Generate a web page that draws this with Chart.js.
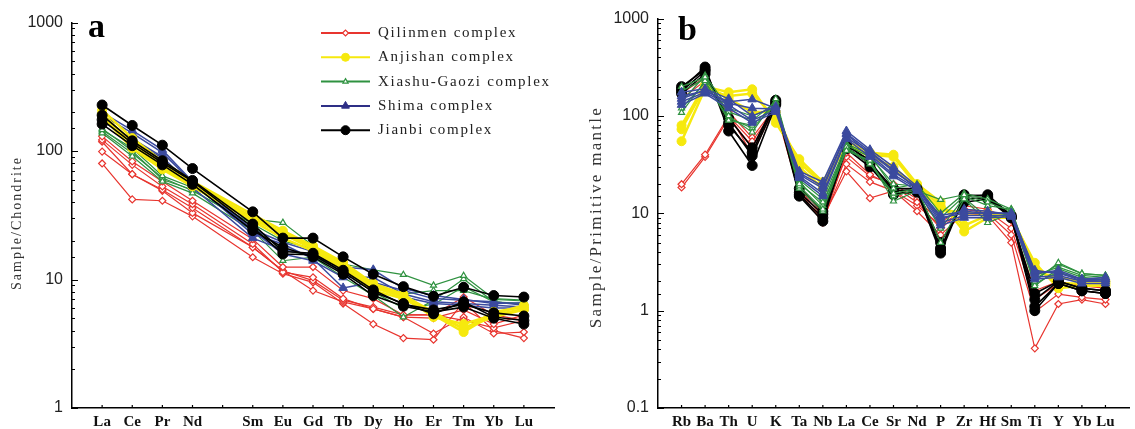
<!DOCTYPE html>
<html>
<head>
<meta charset="utf-8">
<script src="https://cdn.jsdelivr.net/npm/chart.js"></script>
<style>
  html, body { margin: 0; padding: 0; background: #fff; }
  #wrap { position: relative; width: 1135px; height: 429px; }
  .panel { position: absolute; top: 0; }
  #pa { left: 0; }
  #pb { left: 560px; }
</style>
</head>
<body>
<div id="wrap">
  <div class="panel" id="pa"><canvas id="chartA" width="560" height="429"></canvas></div>
  <div class="panel" id="pb"><canvas id="chartB" width="575" height="429"></canvas></div>
</div>
<script>
// --- categories ---
const reeNames = ['La', 'Ce', 'Pr', 'Nd', '', 'Sm', 'Eu', 'Gd', 'Tb', 'Dy', 'Ho', 'Er', 'Tm', 'Yb', 'Lu'];
const traceNames = ['Rb', 'Ba', 'Th', 'U', 'K', 'Ta', 'Nb', 'La', 'Ce', 'Sr', 'Nd', 'P', 'Zr', 'Hf', 'Sm', 'Ti', 'Y', 'Yb', 'Lu'];
const complexes = ['Qilinmen complex', 'Anjishan complex', 'Xiashu-Gaozi complex', 'Shima complex', 'Jianbi complex'];
const yRangeA = [1, 1000];
const yRangeB = [0.1, 1000];

// --- (a) sample / chondrite, Pm slot left empty ---
const reeQilinmen = [
  [130, 83, 58, 41, null, 20.6, 12.5, 12.5, 8.2, 7.1, 5.3, 5.3, 7.3, 5.3, 4.8],
  [122, 78, 53, 38.5, null, 18.9, 11.4, 10.4, 7.1, 5.9, 5.1, 5.0, 5.8, 4.5, 5.3],
  [118, 66, 50, 36, null, 17.8, 11.7, 9.8, 6.9, 6.1, 5.3, 5.3, 4.8, 4.2, 4.8],
  [99, 66, 49, 33, null, 17.8, 11.7, 8.2, 6.7, 5.9, 5.1, 3.8, 5.1, 3.8, 3.9],
  [80, 42, 41, 31, null, 14.9, 11.1, 9.5, 6.5, 4.5, 3.5, 3.4, 6.7, 4.0, 3.5]
];
const reeAnjishan = [
  [209, 126, 83, 58, null, 32, 24, 18.3, 13.6, 9.3, 7.7, 5.3, 3.9, 5.4, 6.3],
  [197, 112, 74, 55, null, 29.5, 22.5, 17.3, 12.4, 8.7, 7.3, 5.1, 4.5, 5.3, 5.9],
  [185, 105, 72, 53, null, 28.5, 21, 16.7, 12, 8.2, 7.1, 5.3, 4.2, 5.1, 5.8],
  [190, 118, 78, 56, null, 30.5, 23, 17.8, 13, 9.0, 7.5, 5.6, 4.1, 5.6, 6.1]
];
const reeXiashu = [
  [146, 105, 64, 52, null, 29.5, 27.7, 18.3, 13.2, 11.9, 10.9, 9.0, 10.7, 7.1, 6.9],
  [138, 91, 58, 47, null, 24, 14, 14.9, 10.4, 7.5, 5.1, 6.9, 10.1, 6.7, 6.5],
  [142, 96, 62, 49, null, 27, 20, 17.3, 12.4, 8.7, 7.7, 8.2, 8.2, 7.0, 6.8],
  [150, 100, 60, 50, null, 26, 17, 15.2, 11.5, 8.0, 6.0, 6.4, 8.8, 6.7, 6.4]
];
const reeShima = [
  [190, 138, 97, 57, null, 22.5, 18.9, 14.5, 8.6, 9.5, 8.2, 7.1, 6.9, 6.7, 6.3],
  [180, 119, 88, 55, null, 24, 15.8, 14, 10.4, 10.4, 7.7, 6.7, 6.5, 6.3, 6.1],
  [170, 125, 90, 52, null, 21, 17, 15.5, 12.5, 11.9, 8.5, 7.5, 7.0, 6.5, 6.6],
  [200, 145, 102, 58, null, 24.5, 19.5, 16.5, 11, 9.0, 7.3, 6.5, 6.3, 6.0, 6.0]
];
const reeJianbi = [
  [228, 158, 111, 73, null, 33.6, 21, 21, 15, 11, 8.8, 7.4, 8.7, 7.5, 7.3],
  [175, 115, 81, 58, null, 25.4, 15.8, 15.6, 11.4, 8.0, 6.5, 5.4, 6.7, 5.1, 4.8],
  [162, 110, 78, 55, null, 24, 17.8, 15, 11, 7.5, 6.2, 5.6, 6.1, 5.0, 4.5],
  [190, 120, 84, 59, null, 27, 16.5, 16, 11.8, 8.3, 6.4, 5.8, 6.4, 5.5, 5.2]
];

// --- (b) sample / primitive mantle ---
const traceQilinmen = [
  [19.9, 40, 100, 55, 120, 17, 8, 42, 25, 19, 13, 7, 11, 10, 6, 0.97, 1.48, 1.37, 1.3],
  [18.4, 38, 95, 48, 115, 16, 8.5, 32, 21, 17, 10.5, 6, 10, 9.5, 5, 0.41, 1.17, 1.3, 1.17],
  [150, 230, 110, 60, 125, 18, 9, 27, 14.3, 17, 12, 7.5, 11, 10.5, 7, 1.3, 1.9, 1.6, 1.5],
  [170, 250, 105, 40, 130, 19, 10, 38, 24, 20, 14, 8, 12, 11, 8.5, 1.6, 2.0, 1.8, 1.7]
];
const traceAnjishan = [
  [73, 200, 175, 188, 85, 36, 21, 55, 42, 40, 20, 13, 6.5, 9, 9, 3.1, 1.7, 1.8, 1.8],
  [55, 190, 160, 170, 95, 33, 20, 50, 40, 38, 19, 12, 7.5, 9.5, 9.5, 2.8, 1.9, 1.9, 1.9],
  [80, 210, 150, 110, 110, 30, 18, 52, 38, 30, 18, 11, 10, 10, 9, 2.5, 2.2, 2.0, 2.0]
];
const traceXiashu = [
  [200, 250, 100, 68, 150, 20, 13, 44, 35, 13.3, 17, 13.8, 15.5, 13, 10.5, 2.0, 3.1, 2.4, 2.3],
  [108, 230, 90, 80, 135, 19, 11, 48, 32, 16, 18, 5, 14, 8, 10, 1.8, 2.7, 2.2, 2.1],
  [140, 260, 120, 100, 125, 22, 14, 50, 38, 20, 19, 9, 15, 12, 11, 2.3, 2.8, 2.3, 2.2],
  [180, 240, 110, 90, 140, 21, 12, 52, 40, 18, 20, 10, 16, 14, 11, 2.1, 3.0, 2.4, 2.3],
  [120, 220, 95, 75, 130, 18, 10.5, 46, 34, 15, 17.5, 7, 14.5, 9, 10, 1.9, 2.5, 2.1, 2.0]
];
const traceShima = [
  [160, 180, 140, 148, 120, 27, 21, 70, 45, 30, 19, 9, 10, 10, 10, 2.5, 2.5, 2.0, 2.1],
  [140, 175, 130, 90, 115, 25, 18, 65, 40, 25, 18, 8, 9.5, 9.5, 9.5, 2.2, 2.3, 2.0, 2.0],
  [175, 190, 150, 100, 125, 24, 16, 60, 42, 27, 18.5, 8.5, 11, 10.5, 9.7, 2.4, 2.6, 2.1, 2.2],
  [150, 185, 135, 120, 118, 26, 19, 66, 43, 28, 18, 9.5, 10.5, 10, 10, 2.6, 2.4, 2.1, 2.1],
  [130, 170, 120, 85, 110, 23, 15, 58, 38, 24, 17, 7.5, 9, 9, 9.2, 2.1, 2.2, 1.9, 1.9]
];
const traceJianbi = [
  [190, 318, 70, 31, 130, 15, 8.3, 50, 35, 15.5, 17, 3.9, 15, 15.5, 9.5, 1.0, 1.9, 1.6, 1.5],
  [180, 290, 85, 39, 135, 16.3, 9.8, 52, 33, 18, 18, 4.4, 14, 14.5, 9, 1.3, 2.0, 1.7, 1.6],
  [170, 270, 95, 47, 140, 18, 10.5, 48, 32, 17, 17.5, 5, 13, 14, 9, 1.5, 2.0, 1.7, 1.6],
  [200, 300, 80, 42, 145, 15.5, 9, 46, 30, 16, 16.5, 4.2, 15.5, 15, 9.2, 1.1, 1.9, 1.6, 1.5]
];

const styles = [
  { color: '#e8352f', fill: '#ffffff', shape: 'rectRot', radius: 3.5, pw: 1.2, lw: 1.2 },
  { color: '#f6e90e', fill: '#f6e90e', shape: 'circle', radius: 4.5, pw: 1, lw: 2.5 },
  { color: '#2f9240', fill: '#ffffff', shape: 'triangle', radius: 3.5, pw: 1.2, lw: 1.2 },
  { color: '#3b4a9e', fill: '#3b4a9e', shape: 'triangle', radius: 5, pw: 1, lw: 1.5 },
  { color: '#000000', fill: '#000000', shape: 'circle', radius: 5, pw: 1, lw: 1.6 }
];

const isDecade = v => Math.abs(Math.log10(v) - Math.round(Math.log10(v))) < 1e-9;

// small inward tick marks on both axes
const inwardTicks = {
  id: 'inwardTicks',
  afterDraw(chart) {
    const { ctx, chartArea, scales } = chart;
    const n = chart.options.plugins.decor.count;
    ctx.save();
    ctx.strokeStyle = '#000';
    ctx.lineWidth = 1.2;
    ctx.beginPath();
    scales.y.ticks.forEach(t => {
      const y = Math.round(scales.y.getPixelForValue(t.value)) + 0.5;
      ctx.moveTo(chartArea.left, y);
      ctx.lineTo(chartArea.left + (isDecade(t.value) ? 6 : 3), y);
    });
    scales.x.ticks.forEach(t => {
      if (t.value < 0 || t.value >= n) return;
      const x = scales.x.getPixelForValue(t.value);
      ctx.moveTo(x, chartArea.bottom);
      ctx.lineTo(x, chartArea.bottom - 3);
    });
    ctx.stroke();
    ctx.restore();
  }
};

// panel letter, spaced y title, legend
const decor = {
  id: 'decor',
  afterDraw(chart, args, o) {
    const ctx = chart.ctx;
    ctx.save();
    ctx.fillStyle = '#000';
    ctx.font = 'bold 34px "Liberation Serif"';
    ctx.textBaseline = 'alphabetic';
    ctx.fillText(o.letter, o.letterX, o.letterY);

    ctx.save();
    ctx.translate(o.titleX, o.titleY);
    ctx.rotate(-Math.PI / 2);
    ctx.font = o.titleFont;
    ctx.letterSpacing = o.titleSpacing;
    ctx.fillStyle = '#333';
    ctx.textAlign = 'center';
    ctx.textBaseline = 'middle';
    ctx.fillText(o.title, 0, 0);
    ctx.restore();

    if (o.legend) {
      const L = o.legend;
      const drawPoint = Chart.helpers && Chart.helpers.drawPoint;
      complexes.forEach((name, i) => {
        const st = styles[i];
        const y = L.y + i * L.dy;
        ctx.strokeStyle = i === 3 ? '#2e2f86' : st.color;
        ctx.lineWidth = 2;
        ctx.beginPath();
        ctx.moveTo(L.x, y);
        ctx.lineTo(L.x + L.len, y);
        ctx.stroke();
        ctx.fillStyle = i === 3 ? '#2e2f86' : st.fill;
        ctx.lineWidth = st.pw;
        if (drawPoint) {
          drawPoint(ctx, { pointStyle: st.shape, radius: st.radius - 0.5, rotation: 0, borderWidth: st.pw }, L.x + L.len / 2, y);
        }
        ctx.fillStyle = '#222';
        ctx.font = '15px "Liberation Serif"';
        ctx.letterSpacing = '1.7px';
        ctx.textBaseline = 'middle';
        ctx.textAlign = 'left';
        ctx.fillText(name, L.textX, y);
        ctx.letterSpacing = '0px';
      });
    }
    ctx.restore();
  }
};

function buildChart(id, names, groups, cfg) {
  const datasets = [];
  groups.forEach((rows, gi) => {
    const st = styles[gi];
    rows.forEach(row => datasets.push({
      label: complexes[gi],
      data: row.map((v, i) => ({ x: i, y: v })),
      borderColor: st.color,
      backgroundColor: st.fill,
      pointBorderColor: st.color,
      pointBackgroundColor: st.fill,
      pointStyle: st.shape,
      pointRadius: st.radius,
      pointBorderWidth: st.pw,
      borderWidth: st.lw,
      order: cfg.order[gi],
      spanGaps: true,
      tension: 0
    }));
  });

  return new Chart(document.getElementById(id), {
    type: 'line',
    data: { datasets },
    options: {
      responsive: false,
      animation: false,
      events: [],
      layout: { padding: { top: cfg.top, right: cfg.right, left: 0, bottom: 0 } },
      scales: {
        x: {
          type: 'linear',
          min: -1,
          max: names.length,
          grid: { display: false, drawTicks: false },
          border: { display: true, color: '#000', width: 1.5 },
          ticks: {
            stepSize: 1,
            autoSkip: false,
            maxRotation: 0,
            padding: 5,
            color: '#111',
            font: { family: 'Liberation Serif', size: 15, weight: 'bold' },
            callback: v => names[v] || ''
          },
          afterFit: s => { s.height = 21; }
        },
        y: {
          type: 'logarithmic',
          min: cfg.yRange[0],
          max: cfg.yRange[1],
          grid: { display: false, drawTicks: false },
          border: { display: true, color: '#000', width: 1.5 },
          ticks: {
            autoSkip: false,
            padding: 9,
            color: '#222',
            font: { family: 'Liberation Sans', size: 16 },
            callback: v => isDecade(v) ? String(v) : ''
          },
          afterFit: s => { s.width = cfg.yWidth; }
        }
      },
      plugins: {
        legend: { display: false },
        tooltip: { enabled: false },
        decor: Object.assign({ count: names.length }, cfg.decor)
      }
    },
    plugins: [inwardTicks, decor]
  });
}

buildChart('chartA', reeNames, [reeQilinmen, reeAnjishan, reeXiashu, reeShima, reeJianbi], {
  yRange: yRangeA, yWidth: 72, top: 22.5, right: 2,
  order: [4, 1, 3, 2, 0],
  decor: {
    letter: 'a', letterX: 88, letterY: 37,
    title: 'Sample/Chondrite', titleX: 17, titleY: 223,
    titleFont: '14px "Liberation Serif"', titleSpacing: '2px',
    legend: { x: 321, len: 49, textX: 378, y: 33, dy: 24.3 }
  }
});

buildChart('chartB', traceNames, [traceQilinmen, traceAnjishan, traceXiashu, traceShima, traceJianbi], {
  yRange: yRangeB, yWidth: 98, top: 14, right: 5,
  order: [4, 3, 1, 0, 2],
  decor: {
    letter: 'b', letterX: 118, letterY: 40,
    title: 'Sample/Primitive mantle', titleX: 37, titleY: 217,
    titleFont: '17px "Liberation Serif"', titleSpacing: '2.3px'
  }
});
</script>
</body>
</html>
